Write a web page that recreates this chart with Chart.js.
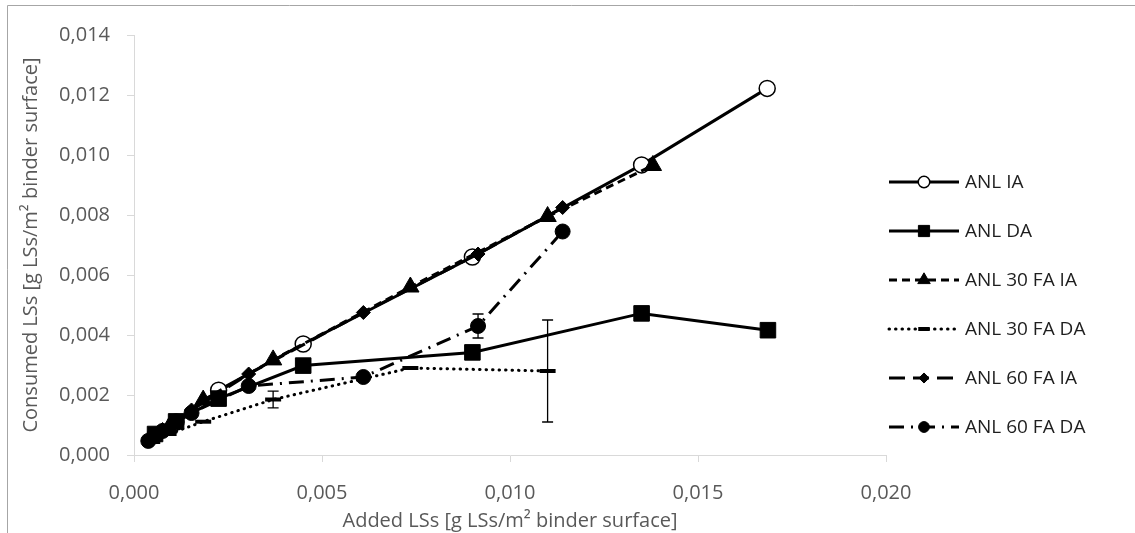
<!DOCTYPE html>
<html>
<head>
<meta charset="utf-8">
<script src="https://cdn.jsdelivr.net/npm/chart.js@4.4.1/dist/chart.umd.min.js"></script>
<style>
  html, body { margin: 0; padding: 0; background: #ffffff; }
  #wrap { position: relative; width: 1135px; height: 533px; }
</style>
</head>
<body>
<div id="wrap"><canvas id="chart" width="1135" height="533"></canvas></div>
<script>
// Added vs consumed LSs, per binder mix and addition mode
const seriesNames = ['ANL IA', 'ANL DA', 'ANL 30 FA IA', 'ANL 30 FA DA', 'ANL 60 FA IA', 'ANL 60 FA DA'];

const addedANL_IA   = [0.00056, 0.00112, 0.00225, 0.0045, 0.0090, 0.0135, 0.01684];
const consumedANL_IA = [0.00065, 0.00110, 0.00216, 0.0037, 0.0066, 0.00967, 0.01222];

const addedANL_DA   = [0.00056, 0.00112, 0.00225, 0.0045, 0.0090, 0.0135, 0.01686];
const consumedANL_DA = [0.00070, 0.00112, 0.00188, 0.00298, 0.00342, 0.00472, 0.00416];

const addedANL30_IA   = [0.00046, 0.00092, 0.00184, 0.0037, 0.00735, 0.0110, 0.0138];
const consumedANL30_IA = [0.00055, 0.00090, 0.00183, 0.00317, 0.0056, 0.00795, 0.00965];

const addedANL30_DA   = [0.00046, 0.00092, 0.00184, 0.0037, 0.00735, 0.0110];
const consumedANL30_DA = [0.00055, 0.00070, 0.00111, 0.00185, 0.0029, 0.0028];
const errorANL30_DA    = [0, 0, 0, 0.00028, 0, 0.0017];

const addedANL60_IA   = [0.00038, 0.00076, 0.00153, 0.00305, 0.0061, 0.00915, 0.0114];
const consumedANL60_IA = [0.00050, 0.00085, 0.00150, 0.00270, 0.00475, 0.0067, 0.00825];

const addedANL60_DA   = [0.00038, 0.00076, 0.00153, 0.00305, 0.0061, 0.00915, 0.0114];
const consumedANL60_DA = [0.00047, 0.00080, 0.00140, 0.00230, 0.00260, 0.0043, 0.00745];
const errorANL60_DA    = [0, 0, 0, 0, 0, 0.0004, 0];

const xTickStep = 0.005, xMax = 0.020;
const yTickStep = 0.002, yMax = 0.014;

function pts(xs, ys) { return xs.map((x, i) => ({ x: x, y: ys[i] })); }
const fmt = v => v.toFixed(3).replace('.', ',');

const styles = [
  { dash: [],            cap: 'butt',  point: 'circle',   r: 8,   bg: '#ffffff', bw: 1.5 },
  { dash: [],            cap: 'butt',  point: 'rect',     r: 11,  bg: '#000000', bw: 1 },
  { dash: [8, 5],        cap: 'butt',  point: 'triangle', r: 10,  bg: '#000000', bw: 1 },
  { dash: [0.5, 6],      cap: 'round', point: 'line',     r: 8,   bg: '#000000', bw: 4 },
  { dash: [16, 8],       cap: 'butt',  point: 'rectRot',  r: 7,   bg: '#000000', bw: 1 },
  { dash: [15, 7, 2, 7], cap: 'butt',  point: 'circle',   r: 7.5, bg: '#000000', bw: 1 }
];

const dataSets = [
  pts(addedANL_IA, consumedANL_IA),
  pts(addedANL_DA, consumedANL_DA),
  pts(addedANL30_IA, consumedANL30_IA),
  pts(addedANL30_DA, consumedANL30_DA),
  pts(addedANL60_IA, consumedANL60_IA),
  pts(addedANL60_DA, consumedANL60_DA)
];
const errorSets = [null, null, null, errorANL30_DA, null, errorANL60_DA];

const datasets = dataSets.map((d, i) => ({
  label: seriesNames[i],
  data: d,
  showLine: true,
  borderColor: '#000000',
  borderWidth: 3,
  borderDash: styles[i].dash,
  borderCapStyle: styles[i].cap,
  pointStyle: styles[i].point,
  pointRadius: styles[i].r,
  pointHoverRadius: styles[i].r,
  pointBackgroundColor: styles[i].bg,
  pointBorderColor: '#000000',
  pointBorderWidth: styles[i].bw,
  errorBars: errorSets[i],
  order: dataSets.length - 1 - i
}));

// Outer frame of the chart object
const framePlugin = {
  id: 'frame',
  beforeDraw(chart) {
    const ctx = chart.ctx;
    ctx.save();
    ctx.strokeStyle = '#a6a6a6';
    ctx.lineWidth = 1;
    ctx.beginPath();
    ctx.moveTo(7.5, chart.height);
    ctx.lineTo(7.5, 5.5);
    ctx.lineTo(chart.width, 5.5);
    ctx.stroke();
    ctx.restore();
  }
};

// Vertical error bars with caps
const errorBarPlugin = {
  id: 'errorBars',
  afterDatasetsDraw(chart) {
    const ctx = chart.ctx;
    const xs = chart.scales.x, ys = chart.scales.y;
    ctx.save();
    ctx.strokeStyle = '#000000';
    ctx.lineWidth = 1.3;
    chart.data.datasets.forEach(ds => {
      if (!ds.errorBars) return;
      ds.data.forEach((p, i) => {
        const e = ds.errorBars[i];
        if (!e) return;
        const px = xs.getPixelForValue(p.x);
        const top = ys.getPixelForValue(p.y + e);
        const bot = ys.getPixelForValue(p.y - e);
        ctx.beginPath();
        ctx.moveTo(px, top); ctx.lineTo(px, bot);
        ctx.moveTo(px - 5.5, top); ctx.lineTo(px + 5.5, top);
        ctx.moveTo(px - 5.5, bot); ctx.lineTo(px + 5.5, bot);
        ctx.stroke();
      });
    });
    ctx.restore();
  }
};

// Legend on the right: line sample with marker, then the series name
const legendPlugin = {
  id: 'sideLegend',
  afterDraw(chart) {
    const ctx = chart.ctx;
    const x0 = 889, x1 = 959, textX = 965;
    const firstY = 182, gap = 49;
    ctx.save();
    chart.data.datasets.forEach((ds, i) => {
      const y = firstY + i * gap;
      const st = styles[i];
      ctx.strokeStyle = '#000000';
      ctx.lineWidth = 3;
      ctx.lineCap = st.cap;
      ctx.setLineDash(st.dash);
      ctx.beginPath();
      ctx.moveTo(x0, y); ctx.lineTo(x1, y);
      ctx.stroke();
      ctx.setLineDash([]);
      ctx.lineCap = 'butt';
      ctx.fillStyle = st.bg;
      ctx.strokeStyle = '#000000';
      ctx.lineWidth = st.bw;
      Chart.helpers.drawPoint(ctx, {
        pointStyle: st.point, rotation: 0, borderWidth: st.bw,
        radius: st.r * 0.72
      }, (x0 + x1) / 2, y);
      ctx.fillStyle = '#1e1e1e';
      ctx.font = '19px "Open Sans"';
      ctx.textAlign = 'left';
      ctx.textBaseline = 'middle';
      ctx.fillText(ds.label, textX, y + 1);
    });
    ctx.restore();
  }
};

const axisFont = { family: '"Open Sans"', size: 20 };

new Chart(document.getElementById('chart'), {
  type: 'scatter',
  data: { datasets: datasets },
  plugins: [framePlugin, errorBarPlugin, legendPlugin],
  options: {
    responsive: false,
    animation: false,
    events: [],
    layout: { padding: { left: 0, right: 249, top: 35, bottom: 0 } },
    plugins: { legend: { display: false }, tooltip: { enabled: false } },
    scales: {
      x: {
        type: 'linear',
        min: 0, max: xMax,
        afterFit: s => { s.height = 78; },
        ticks: { stepSize: xTickStep, callback: v => fmt(v), color: '#595959', font: axisFont, padding: 19, maxRotation: 0 },
        grid: { display: true, drawOnChartArea: false, drawTicks: true, tickLength: 7, color: '#d9d9d9' },
        border: { display: true, color: '#d9d9d9', width: 1 },
        title: { display: true, text: 'Added LSs [g LSs/m² binder surface]', color: '#595959', font: axisFont, padding: { top: 0, bottom: 0 } }
      },
      y: {
        type: 'linear',
        min: 0, max: yMax,
        afterFit: s => { s.width = 134; },
        ticks: { stepSize: yTickStep, callback: v => fmt(v), color: '#595959', font: axisFont, padding: 17 },
        grid: { display: true, drawOnChartArea: false, drawTicks: true, tickLength: 7, color: '#d9d9d9' },
        border: { display: true, color: '#d9d9d9', width: 1 },
        title: { display: true, text: 'Consumed LSs [g LSs/m² binder surface]', color: '#595959', font: axisFont, padding: { top: 19, bottom: 0 } }
      }
    }
  }
});
</script>
</body>
</html>
